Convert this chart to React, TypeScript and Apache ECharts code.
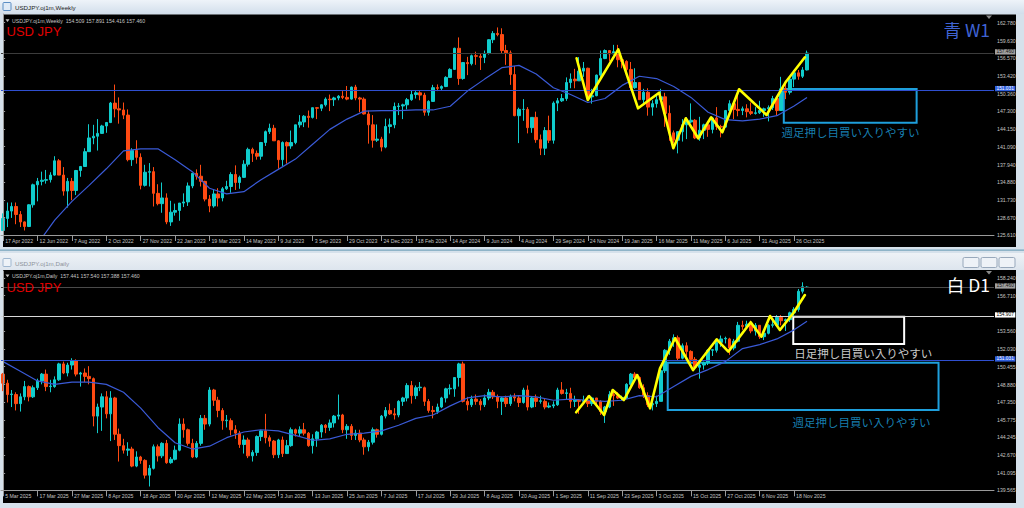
import { useEffect, useRef } from "react";
import * as echarts from "echarts";

// ---------------- data ----------------
const weeklyDateLabels = ["17 Apr 2022","12 Jun 2022","7 Aug 2022","2 Oct 2022","27 Nov 2022","22 Jan 2023","19 Mar 2023","14 May 2023","9 Jul 2023","3 Sep 2023","29 Oct 2023","24 Dec 2023","18 Feb 2024","14 Apr 2024","9 Jun 2024","4 Aug 2024","29 Sep 2024","24 Nov 2024","19 Jan 2025","16 Mar 2025","11 May 2025","6 Jul 2025","31 Aug 2025","26 Oct 2025"];
const dailyDateLabels = ["5 Mar 2025","17 Mar 2025","27 Mar 2025","8 Apr 2025","18 Apr 2025","30 Apr 2025","12 May 2025","22 May 2025","3 Jun 2025","13 Jun 2025","25 Jun 2025","7 Jul 2025","17 Jul 2025","29 Jul 2025","8 Aug 2025","20 Aug 2025","1 Sep 2025","11 Sep 2025","23 Sep 2025","3 Oct 2025","15 Oct 2025","27 Oct 2025","6 Nov 2025","18 Nov 2025"];

const weeklyPriceTicks = [162.78,159.63,156.57,153.42,150.36,147.3,144.15,141.09,137.94,134.88,131.73,128.67,125.61];
const dailyPriceTicks = [158.24,156.71,153.56,152.03,150.455,148.88,147.35,145.775,144.245,142.67,141.095,139.565];

// [open, high, low, close]
const weeklyOHLC = [
[126.4,129.4,126.3,128.5],[128.5,131.3,127.0,129.8],[129.8,131.3,128.6,130.6],[130.6,131.3,127.5,129.2],[129.2,129.8,127.0,127.9],
[127.9,128.0,126.4,127.1],[127.1,131.0,127.0,130.9],[130.9,134.6,130.4,134.4],[134.4,135.6,131.5,135.0],[135.0,136.7,134.3,135.2],
[135.2,137.0,134.6,135.3],[135.3,136.6,134.8,136.1],[136.1,139.4,136.0,138.6],[138.6,138.9,136.4,136.1],[136.1,137.5,132.5,133.3],
[133.3,135.6,130.4,135.0],[135.0,135.6,131.7,133.4],[133.4,137.0,132.6,136.9],[136.9,137.7,135.8,137.6],[137.6,140.8,137.6,140.2],
[140.2,145.0,140.2,142.6],[142.6,144.9,141.5,142.9],[142.9,145.9,140.4,143.4],[143.4,144.9,143.3,144.7],[144.7,145.4,143.5,145.3],
[145.3,148.9,145.2,148.7],[148.7,151.95,146.2,147.7],[147.7,149.7,145.1,147.5],[147.5,148.8,145.9,146.6],[146.6,147.6,138.5,138.8],
[138.8,140.8,137.7,140.4],[140.4,142.2,138.1,139.2],[139.2,139.9,133.6,134.3],[134.3,137.9,134.1,136.6],[136.6,138.2,134.1,136.7],
[136.7,137.5,130.6,132.9],[132.9,134.5,130.8,131.1],[131.1,134.8,129.5,132.1],[132.1,132.9,127.5,127.9],[127.9,131.6,127.2,129.6],
[129.6,131.1,129.0,129.9],[129.9,131.2,128.1,131.2],[131.2,132.9,130.5,131.4],[131.4,134.8,130.7,134.2],[134.2,136.5,133.8,136.4],
[136.4,137.1,135.3,135.9],[135.9,137.9,134.1,135.0],[135.0,135.1,131.5,131.9],[131.9,132.6,129.6,130.7],[130.7,133.5,130.4,132.8],
[132.8,133.8,130.6,132.1],[132.1,134.0,131.5,133.7],[133.7,135.1,133.5,134.1],[134.1,136.6,133.0,136.2],[136.2,137.8,133.5,134.8],
[134.8,136.0,133.7,135.7],[135.7,138.7,135.6,138.0],[138.0,140.9,137.6,140.6],[140.6,140.9,138.4,139.9],[139.9,140.4,138.8,139.4],
[139.4,141.9,138.8,141.8],[141.8,143.9,141.2,143.7],[143.7,145.1,143.3,144.3],[144.3,144.9,142.1,142.1],[142.1,142.2,137.2,138.8],
[138.8,142.0,137.7,141.8],[141.8,142.0,138.1,141.2],[141.2,143.9,140.7,141.8],[141.8,144.9,141.5,144.9],[144.9,146.6,144.4,145.4],
[145.4,146.6,144.5,146.4],[146.4,147.4,144.4,146.2],[146.2,147.9,146.0,147.9],[147.9,148.0,145.9,147.8],[147.8,148.5,147.3,148.4],
[148.4,149.7,148.1,149.4],[149.4,150.2,147.3,149.3],[149.3,149.8,148.2,149.6],[149.6,150.1,149.2,149.9],[149.9,150.8,149.4,149.7],
[149.7,151.7,149.2,149.4],[149.4,151.6,149.3,151.5],[151.5,151.9,149.2,149.6],[149.6,149.8,147.1,149.4],[149.4,149.7,146.7,146.8],
[146.8,147.4,141.6,144.9],[144.9,146.6,140.9,142.2],[142.2,144.96,141.9,142.4],[142.4,142.8,140.25,141.0],[141.0,145.98,140.8,144.6],
[144.6,146.0,143.4,144.9],[144.9,148.8,144.3,148.1],[148.1,148.7,146.6,148.2],[148.2,148.6,145.9,148.4],[148.4,149.6,147.6,149.3],
[149.3,150.9,149.1,150.2],[150.2,150.8,149.5,150.5],[150.5,150.8,149.2,150.1],[150.1,150.5,146.5,147.1],[147.1,149.2,146.5,149.0],
[149.0,151.9,148.9,151.4],[151.4,151.97,150.8,151.3],[151.3,151.8,151.0,151.6],[151.6,153.4,151.5,153.2],[153.2,154.8,153.2,154.6],
[154.6,158.4,154.5,158.3],[158.3,160.2,151.9,153.0],[153.0,155.9,152.8,155.8],[155.8,156.8,153.6,155.6],[155.6,157.2,155.3,157.0],
[157.0,157.7,155.4,156.9],[156.9,157.3,154.5,156.7],[156.7,157.9,155.7,157.4],[157.4,159.9,157.2,159.8],[159.8,161.3,159.2,160.9],
[160.9,161.95,160.4,160.7],[160.7,161.8,157.4,157.9],[157.9,158.9,155.4,157.5],[157.5,157.9,151.9,153.7],[153.7,155.2,146.4,146.5],
[146.5,147.9,141.7,147.6],[147.6,149.4,145.6,147.6],[147.6,148.0,143.4,144.4],[144.4,146.2,143.5,146.2],[146.2,147.2,141.75,142.3],
[142.3,143.2,139.6,140.8],[140.8,144.5,139.6,143.9],[143.9,146.5,141.7,142.2],[142.2,149.0,141.6,148.7],[148.7,149.6,147.3,149.1],
[149.1,150.3,148.9,149.5],[149.5,153.2,149.1,152.3],[152.3,153.9,151.3,152.9],[152.9,154.7,151.3,152.6],[152.6,156.75,152.6,154.3],
[154.3,155.9,153.3,154.8],[154.8,154.9,149.5,149.8],[149.8,151.2,148.6,150.0],[150.0,153.7,149.9,153.6],[153.6,157.9,153.1,156.5],
[156.5,158.1,156.4,157.9],[157.9,158.0,156.0,157.3],[157.3,158.9,157.3,157.7],[157.7,158.9,154.97,156.3],[156.3,156.8,154.8,156.0],
[156.0,156.2,153.7,154.6],[154.6,155.9,150.9,151.4],[151.4,154.8,151.2,152.3],[152.3,152.4,149.3,149.3],[149.3,151.2,148.6,150.6],
[150.6,151.3,146.5,148.0],[148.0,149.2,146.5,148.6],[148.6,150.2,147.9,149.3],[149.3,151.2,149.2,149.8],[149.8,150.5,144.55,146.9],
[146.9,148.3,142.1,143.5],[143.5,143.9,141.6,142.2],[142.2,143.6,139.9,143.7],[143.7,145.9,141.97,144.9],[144.9,146.2,142.4,145.4],
[145.4,148.65,145.2,145.7],[145.7,145.9,142.4,142.6],[142.6,146.3,142.1,143.95],[143.95,145.1,142.4,144.9],[144.9,145.5,142.8,144.1],
[144.1,146.2,143.4,146.1],[146.1,148.0,144.0,144.6],[144.6,144.9,142.7,144.5],[144.5,147.5,144.4,147.4],[147.4,149.2,147.0,148.6],
[148.6,148.8,145.9,147.6],[147.6,150.9,146.4,147.4],[147.4,148.1,146.6,147.7],[147.7,148.5,146.2,147.2],[147.2,148.8,146.6,146.9],
[146.9,148.0,146.7,147.0],[147.0,149.1,146.8,147.4],[147.4,147.9,146.3,147.7],[147.7,148.3,145.5,147.9],[147.9,149.97,147.5,149.5],
[149.5,149.7,146.6,147.4],[147.4,153.3,147.4,151.2],[151.2,152.6,149.4,150.6],[150.6,153.1,150.2,152.9],[152.9,154.5,151.5,154.0],
[154.0,154.5,152.8,153.4],[153.4,155.0,153.1,154.5],[154.509,157.891,154.416,157.46]
];

const dailyOHLC = [
[149.8,149.9,148.3,149.0],[149.0,149.3,147.3,148.0],[148.0,148.4,146.9,148.05],[148.0,148.2,146.6,147.2],[147.2,148.1,146.5,147.8],
[147.8,149.2,147.5,148.7],[148.7,148.8,147.4,147.8],[147.8,148.8,147.7,148.6],[148.6,149.4,148.4,149.2],[149.2,149.9,148.9,149.8],
[149.8,150.2,148.3,148.7],[148.7,149.3,148.2,148.75],[148.7,149.6,148.6,149.3],[149.3,150.8,149.2,150.7],[150.7,150.9,149.8,149.9],
[149.9,150.8,149.6,150.6],[150.6,151.2,150.2,151.0],[151.0,151.1,149.6,149.8],[149.8,150.0,148.7,149.9],[149.9,150.3,149.1,149.6],
[149.6,150.5,148.9,149.4],[149.4,149.5,145.2,146.1],[146.1,147.2,144.6,146.9],[146.9,148.1,144.8,147.8],[147.8,148.3,145.9,146.3],
[146.3,148.3,143.9,147.7],[147.7,147.8,144.0,144.5],[144.5,145.0,142.1,143.5],[143.5,144.1,142.8,143.1],[143.1,143.8,142.6,143.2],
[143.2,143.4,141.6,141.7],[141.7,143.0,141.6,142.5],[142.5,142.6,141.9,142.2],[142.2,142.3,140.6,140.9],[140.9,141.8,139.9,141.5],
[141.5,143.6,141.4,143.4],[143.4,143.6,142.1,142.6],[142.6,143.8,142.4,143.7],[143.7,144.0,141.9,142.0],[142.0,142.5,141.9,142.3],
[142.3,143.5,142.2,143.1],[143.1,145.9,143.0,145.4],[145.4,145.9,144.2,144.9],[144.9,145.0,143.5,143.7],[143.7,144.1,142.4,142.5],
[142.5,143.9,142.4,143.7],[143.7,146.2,143.5,145.9],[145.9,146.2,144.9,145.4],[145.4,148.65,145.2,148.4],[148.4,148.5,147.0,147.5],
[147.5,147.8,146.0,146.6],[146.6,146.8,144.9,145.7],[145.7,146.2,145.1,145.75],[145.7,145.9,144.4,144.9],[144.9,145.3,144.1,144.6],
[144.6,144.8,143.3,143.6],[143.6,144.4,142.8,144.0],[144.0,144.2,142.4,142.6],[142.6,143.1,142.1,142.9],[142.9,144.4,142.6,144.3],
[144.3,144.9,143.9,144.8],[144.8,146.3,143.7,144.2],[144.2,144.4,143.4,143.9],[143.9,144.0,142.4,142.7],[142.7,144.1,142.4,144.0],
[144.0,144.3,142.5,142.8],[142.8,144.0,142.8,143.5],[143.5,145.1,143.4,144.9],[144.9,145.0,144.3,144.6],[144.6,145.2,144.3,144.9],
[144.9,145.5,144.4,144.6],[144.6,144.7,143.4,143.5],[143.5,144.5,142.8,144.1],[144.1,144.8,143.4,144.7],[144.7,145.4,144.2,145.3],
[145.3,145.4,144.6,145.1],[145.1,145.8,144.8,145.5],[145.5,146.2,145.1,146.1],[146.1,148.0,145.8,146.2],[146.2,146.3,144.6,144.9],
[144.9,145.4,144.1,145.2],[145.2,145.4,144.0,144.4],[144.4,144.9,144.0,144.6],[144.6,144.9,143.8,144.0],[144.0,144.2,142.7,143.4],
[143.4,144.0,143.0,143.8],[143.8,145.1,143.6,144.9],[144.9,145.0,144.2,144.5],[144.5,146.2,144.4,146.1],[146.1,146.9,145.9,146.6],
[146.6,147.2,146.2,146.3],[146.3,146.8,145.8,146.2],[146.2,147.5,146.0,147.4],[147.4,147.8,147.0,147.7],[147.7,149.0,147.4,148.8],
[148.8,149.2,147.2,147.9],[147.9,148.8,147.6,148.6],[148.6,149.1,148.3,148.65],[148.6,148.7,147.0,147.4],[147.4,147.6,146.4,146.6],
[146.6,147.0,145.9,146.5],[146.5,147.2,146.3,146.9],[146.9,147.8,146.8,147.7],[147.7,148.6,147.3,148.5],[148.5,148.9,148.0,148.55],
[148.5,149.5,147.8,149.5],[149.5,150.8,148.7,150.7],[150.7,150.9,147.3,147.4],[147.4,147.8,146.6,147.1],[147.1,147.9,146.9,147.6],
[147.6,148.0,147.1,147.4],[147.4,147.6,146.6,147.1],[147.1,148.0,146.9,147.7],[147.7,148.5,147.5,148.2],[148.2,148.4,147.6,147.8],
[147.8,148.0,146.8,147.4],[147.4,147.8,146.2,147.7],[147.7,147.9,146.9,147.2],[147.2,148.0,147.0,147.8],[147.8,148.1,147.4,147.7],
[147.7,147.9,146.9,147.3],[147.3,148.6,147.2,148.4],[148.4,148.8,146.6,146.9],[146.9,147.8,146.8,147.7],[147.7,148.0,146.9,147.4],
[147.4,147.9,147.2,147.45],[147.4,147.6,146.7,146.9],[146.9,147.3,146.8,147.0],[147.0,147.4,146.8,147.1],[147.1,148.6,147.0,148.4],
[148.4,149.1,148.0,148.1],[148.1,148.5,147.6,148.15],[148.1,148.6,146.8,147.4],[147.4,147.9,146.9,147.5],[147.5,147.6,146.3,147.4],
[147.4,147.9,147.2,147.5],[147.5,147.9,146.9,147.2],[147.2,147.8,147.0,147.7],[147.7,147.7,147.1,147.4],[147.4,147.5,146.2,146.5],
[146.5,147.0,145.5,146.9],[146.9,148.3,146.8,148.0],[148.0,148.3,147.0,147.9],[147.9,148.2,147.6,147.7],[147.7,147.9,147.5,147.75],
[147.7,149.0,147.6,148.9],[148.9,149.9,148.8,149.8],[149.8,149.97,149.2,149.5],[149.5,149.6,148.5,148.6],[148.6,148.9,147.7,147.9],
[147.9,148.2,146.9,147.1],[147.1,147.7,146.6,147.2],[147.2,147.9,146.9,147.4],[147.4,150.5,147.4,150.1],[150.1,152.0,149.9,151.9],
[151.9,152.9,151.5,152.7],[152.7,153.3,152.2,153.0],[153.0,153.2,151.0,151.2],[151.2,152.5,151.1,152.3],[152.3,152.6,151.4,151.8],
[151.8,151.9,150.8,151.1],[151.1,151.3,150.3,150.4],[150.4,151.0,149.4,150.6],[150.6,150.9,150.2,150.8],[150.8,152.0,150.6,151.9],
[151.9,152.0,151.4,151.95],[151.9,152.8,151.7,152.6],[152.6,153.2,152.2,152.9],[152.9,153.1,152.5,152.95],[152.9,153.0,151.5,152.1],
[152.1,152.9,151.9,152.7],[152.7,154.4,152.6,154.1],[154.1,154.5,153.7,154.0],[154.0,154.5,153.9,154.2],[154.2,154.5,153.4,153.6],
[153.6,154.3,153.2,154.1],[154.1,154.1,152.9,153.1],[153.1,153.6,152.8,153.4],[153.4,154.2,153.3,154.1],[154.1,154.5,153.9,154.15],
[154.1,155.0,154.0,154.8],[154.8,155.0,154.1,154.5],[154.5,154.7,153.6,154.6],[154.6,155.3,154.4,155.2],[155.2,155.7,154.9,155.5],
[155.5,157.3,155.3,157.1],[157.1,157.89,156.9,157.5],[157.441,157.54,157.388,157.46]
];

// 20-period moving average, read at every 4th bar: [bar, value]
const weeklyMA20 = [[0,117.6],[4,120.6],[8,124.05],[12,128.2],[16,131.5],[20,134.3],[24,137.2],[28,140.35],[32,140.7],[36,140.7],[40,138.8],[44,136.7],[48,133.8],[52,132.8],[56,133.2],[60,135.3],[64,137.1],[68,138.9],[72,141.5],[76,144.1],[80,145.9],[84,147.3],[88,147.4],[92,147.4],[96,147.5],[100,147.5],[104,148.15],[108,150.8],[112,152.9],[116,154.9],[120,155.3],[124,153.8],[128,151.4],[132,150.2],[136,148.8],[140,149.5],[144,151.8],[148,153.4],[152,153.0],[156,151.6],[160,149.7],[164,147.1],[168,145.8],[172,145.6],[176,145.9],[180,146.5],[184,148.2],[187,149.7]];
const dailyMA20 = [[0,150.9],[4,150.06],[8,149.2],[12,148.9],[16,149.1],[20,149.1],[24,148.9],[28,148.2],[32,146.8],[36,145.1],[40,143.75],[44,143.2],[48,143.45],[52,144.2],[56,144.7],[60,144.9],[64,144.8],[68,144.4],[72,143.97],[76,144.1],[80,144.5],[84,144.6],[88,144.8],[92,145.3],[96,145.9],[100,146.2],[104,147.0],[108,147.7],[112,147.9],[116,147.8],[120,147.9],[124,147.8],[128,147.5],[132,147.6],[136,147.5],[140,147.4],[144,147.5],[148,147.9],[152,147.8],[156,148.7],[160,149.6],[164,150.2],[168,150.9],[172,152.05],[176,152.4],[180,152.9],[184,153.7],[187,154.45]];

// hand-drawn yellow swing lines: [bar position, price]
const weeklyZigzag = [[133.4,156.55],[136.0,149.24],[143.1,158.12],[147.7,147.79],[152.6,150.52],[155.9,140.79],[158.8,146.04],[161.7,142.54],[164.7,146.22],[167.3,143.59],[171.2,151.12],[177.6,146.62],[182.1,152.45],[186.5,156.72]];
const dailyZigzag = [[133.3,146.44],[136.3,147.87],[139.8,146.2],[141.8,148.4],[144.4,147.52],[147.5,149.72],[150.5,146.79],[152.8,150.31],[156.3,152.96],[160.5,150.16],[166.0,152.87],[168.7,151.78],[173.9,154.37],[176.4,153.1],[178.4,154.92],[180.7,153.69],[183.8,155.16],[186.5,156.77]];

// horizontal price levels
const weeklyLevels = [157.46, 151.031];
const dailyLevels = [157.46, 154.907, 151.031];

// annotation zones [barFrom, priceTop, barTo, priceBottom]
const weeklyZones = [[181.6,151.17,212.5,145.27]];
const dailyZones = [[183.8,154.86,209.6,152.45],[154.6,150.81,217.6,146.64]];
const weeklyNotes = [[197.1,143.7,"週足押し目買い入りやすい"]];
const dailyNotes = [[200.1,151.69,"日足押し目買い入りやすい"],[199.7,145.61,"週足押し目買い入りやすい"]];

const weeklyHeader = "USDJPY.oj1m,Weekly  154.509 157.891 154.416 157.460";
const dailyHeader = "USDJPY.oj1m,Daily  157.441 157.540 157.388 157.460";

// ---------------- styling ----------------
const SLOTS = 231;
const UP = "#10cccc";
const DOWN = "#ff4a12";
const AXIS = "#9a9a9a";
const TXT = "#c4c4c4";
const FONT = "'Liberation Sans', Arial, sans-serif";
const CJK = "'Noto Sans CJK JP', sans-serif";
const CYAN = "#1e9fdc";

const weeklyLevelStyle = [
  { line: "#3c3c3c", bg: "#a0a0a0", fg: "#111" },
  { line: "#2f4fd0", bg: "#2f5fe0", fg: "#fff" },
];
const dailyLevelStyle = [
  { line: "#4a4a4a", bg: "#a0a0a0", fg: "#111" },
  { line: "#d8d8d8", bg: "#ffffff", fg: "#000" },
  { line: "#2f4fd0", bg: "#2f5fe0", fg: "#fff" },
];
const weeklyZoneColors = [CYAN];
const dailyZoneColors = ["#ffffff", CYAN];
const weeklyNoteColors = [CYAN];
const dailyNoteColors = ["#ffffff", CYAN];

const slots = Array.from({ length: SLOTS }, (_, i) => String(i));

function panel(g: number, cfg: any) {
  const showIdx = (i: number) => i % 8 === 0 && i / 8 < cfg.labels.length;
  const grid = { left: 1, top: cfg.top, width: 993, height: cfg.height, show: false };
  const xCat = {
    type: "category", gridIndex: g, data: slots, boundaryGap: true, z: 5,
    axisLine: { show: true, lineStyle: { color: AXIS, width: 1 } },
    axisTick: { show: true, alignWithLabel: true, interval: (i: number) => showIdx(i), length: 6, lineStyle: { color: AXIS } },
    axisLabel: {
      show: true, interval: (i: number) => showIdx(i),
      formatter: (_v: string, i: number) => (showIdx(i) ? cfg.labels[i / 8] : ""),
      color: TXT, fontSize: 5.2, fontFamily: FONT, align: "left", margin: 3, padding: [0, 0, 0, 2],
    },
    splitLine: { show: false },
  };
  const xVal = { type: "value", gridIndex: g, min: -0.5, max: SLOTS - 0.5, show: false };
  const yAxis = {
    type: "value", gridIndex: g, position: "right", min: cfg.yMin, max: cfg.yMax, z: 5,
    axisLine: { show: true, lineStyle: { color: AXIS, width: 1 } },
    axisTick: { show: true, length: 2, customValues: cfg.ticks, lineStyle: { color: AXIS } },
    axisLabel: { show: true, customValues: cfg.ticks, formatter: (v: number) => v.toFixed(3), color: TXT, fontSize: 5.2, fontFamily: FONT, margin: 3 },
    splitLine: { show: false },
  };
  const series = [
    {
      type: "candlestick", xAxisIndex: 2 * g, yAxisIndex: g, barWidth: 3, z: 3,
      data: cfg.rows.map((r: number[]) => [r[0], r[3], r[2], r[1]]),
      itemStyle: { color: UP, color0: DOWN, borderColor: UP, borderColor0: DOWN, borderWidth: 1 },
      markLine: {
        silent: true, symbol: ["none", "none"], animation: false,
        data: cfg.levels.map((v: number, k: number) => ({
          yAxis: v,
          lineStyle: { color: cfg.levelStyle[k].line, width: 1, type: "solid" },
          label: {
            show: true, position: "end", distance: 1, formatter: v.toFixed(3),
            backgroundColor: cfg.levelStyle[k].bg, color: cfg.levelStyle[k].fg,
            fontSize: 4.8, fontFamily: FONT, padding: [0.3, 1.5, 0, 1.5], offset: [0, -1.2],
          },
        })),
      },
    },
    {
      type: "line", xAxisIndex: 2 * g + 1, yAxisIndex: g, data: cfg.ma, symbol: "none", z: 4,
      lineStyle: { color: "#3a5ad6", width: 1.2 },
    },
    {
      type: "line", xAxisIndex: 2 * g + 1, yAxisIndex: g, data: cfg.zig, symbol: "none", z: 6,
      lineStyle: { color: "#ffff00", width: 2.6, cap: "round", join: "round" },
      markArea: {
        silent: true,
        itemStyle: { color: "rgba(0,0,0,0)", borderWidth: 2 },
        data: cfg.zones.map((z: number[], k: number) => [
          { coord: [z[0], z[1]], itemStyle: { color: "rgba(0,0,0,0)", borderColor: cfg.zoneColors[k], borderWidth: 2 } },
          { coord: [z[2], z[3]] },
        ]),
      },
    },
    {
      type: "scatter", xAxisIndex: 2 * g + 1, yAxisIndex: g, symbolSize: 1, z: 7, silent: true,
      itemStyle: { color: "rgba(0,0,0,0)" },
      data: cfg.notes.map((n: any[], k: number) => ({
        value: [n[0], n[1]],
        label: { show: true, position: "inside", formatter: n[2], color: cfg.noteColors[k], fontSize: 11.5, fontFamily: CJK },
      })),
    },
  ];
  return { grid, xAxes: [xCat, xVal], yAxis, series };
}

function txt(x: number, y: number, text: string, fill: string, fontSize: number, family = FONT, align = "left") {
  return { type: "text", x, y, z: 50, silent: true, style: { text, fill, fontSize, fontFamily: family, align, verticalAlign: "middle" } };
}

export default function App() {
  const ref = useRef<HTMLDivElement>(null);
  useEffect(() => {
    if (!ref.current) return;
    const chart = echarts.init(ref.current, undefined, { renderer: "svg" });
    const top = panel(0, {
      top: 14, height: 221, yMin: 125.61, yMax: 164.3, labels: weeklyDateLabels, ticks: weeklyPriceTicks,
      rows: weeklyOHLC, ma: weeklyMA20, zig: weeklyZigzag, levels: weeklyLevels, levelStyle: weeklyLevelStyle,
      zones: weeklyZones, zoneColors: weeklyZoneColors, notes: weeklyNotes, noteColors: weeklyNoteColors,
    });
    const bot = panel(1, {
      top: 271, height: 219.3, yMin: 139.565, yMax: 158.884, labels: dailyDateLabels, ticks: dailyPriceTicks,
      rows: dailyOHLC, ma: dailyMA20, zig: dailyZigzag, levels: dailyLevels, levelStyle: dailyLevelStyle,
      zones: dailyZones, zoneColors: dailyZoneColors, notes: dailyNotes, noteColors: dailyNoteColors,
    });
    const grad = (a: string, b: string) => new echarts.graphic.LinearGradient(0, 0, 0, 1, [{ offset: 0, color: a }, { offset: 1, color: b }]);
    const graphic: any[] = [
      { type: "rect", z: -10, silent: true, shape: { x: 0, y: 0, width: 1024, height: 508 }, style: { fill: "#d6e1eb" } },
      { type: "rect", z: -9, silent: true, shape: { x: 0, y: 0, width: 1024, height: 14 }, style: { fill: grad("#eef3f9", "#d2deeb") } },
      { type: "rect", z: -9, silent: true, shape: { x: 0, y: 253, width: 1024, height: 17 }, style: { fill: grad("#eef2f6", "#dde5ee") } },
      { type: "rect", z: -9, silent: true, shape: { x: 0, y: 249.5, width: 1024, height: 1.2 }, style: { fill: "#77a4bd" } },
      { type: "rect", z: -8, silent: true, shape: { x: 3, y: 14.5, width: 1013, height: 232.5 }, style: { fill: "#000" } },
      { type: "rect", z: -8, silent: true, shape: { x: 3, y: 270, width: 1013, height: 233 }, style: { fill: "#000" } },
      // window icons
      { type: "rect", z: 40, silent: true, shape: { x: 3, y: 2.5, width: 8, height: 8, r: 1 }, style: { fill: "#dfeaf6", stroke: "#5b8ec4", lineWidth: 1 } },
      { type: "rect", z: 40, silent: true, shape: { x: 3, y: 258.5, width: 8, height: 8, r: 1 }, style: { fill: "#eef3f8", stroke: "#9fb7d0", lineWidth: 1 } },
      // window buttons (bottom window)
      ...[963, 981, 999].map((x) => ({ type: "rect", z: 40, silent: true, shape: { x, y: 257.5, width: 16, height: 10, r: 1.5 }, style: { fill: "#eef2f7", stroke: "#98a8bb", lineWidth: 1 } })),
      // chart shift markers
      { type: "polygon", z: 40, silent: true, shape: { points: [[986, 15.5], [992, 15.5], [989, 19]] }, style: { fill: "#8a8a8a" } },
      { type: "polygon", z: 40, silent: true, shape: { points: [[986, 271], [992, 271], [989, 274.5]] }, style: { fill: "#8a8a8a" } },
      // header triangles
      { type: "polygon", z: 40, silent: true, shape: { points: [[5.5, 19.3], [9.5, 19.3], [7.5, 22]] }, style: { fill: "#c0c0c0" } },
      { type: "polygon", z: 40, silent: true, shape: { points: [[5.5, 274.5], [9.5, 274.5], [7.5, 277.2]] }, style: { fill: "#c0c0c0" } },
      txt(15, 7.3, "USDJPY.oj1m,Weekly", "#1b1b1b", 6.2),
      txt(15, 263.3, "USDJPY.oj1m,Daily", "#8d939b", 6.2),
      txt(12, 20.7, weeklyHeader, TXT, 5.2),
      txt(12, 275.9, dailyHeader, TXT, 5.2),
      txt(6.5, 31.8, "USD JPY", "#e00000", 13),
      txt(6.5, 287.2, "USD JPY", "#e00000", 13),
      txt(990, 29, "青 W1", "#3f63d3", 17.5, CJK, "right"),
      txt(990, 284.5, "白 D1", "#ffffff", 17.5, CJK, "right"),
    ];
    chart.setOption({
      animation: false,
      backgroundColor: "#d6e1eb",
      grid: [top.grid, bot.grid],
      xAxis: [...top.xAxes, ...bot.xAxes],
      yAxis: [top.yAxis, bot.yAxis],
      series: [...top.series, ...bot.series],
      graphic,
    });
    return () => chart.dispose();
  }, []);
  return <div ref={ref} style={{ position: "absolute", left: 0, top: 0, width: 1024, height: 508 }} />;
}
